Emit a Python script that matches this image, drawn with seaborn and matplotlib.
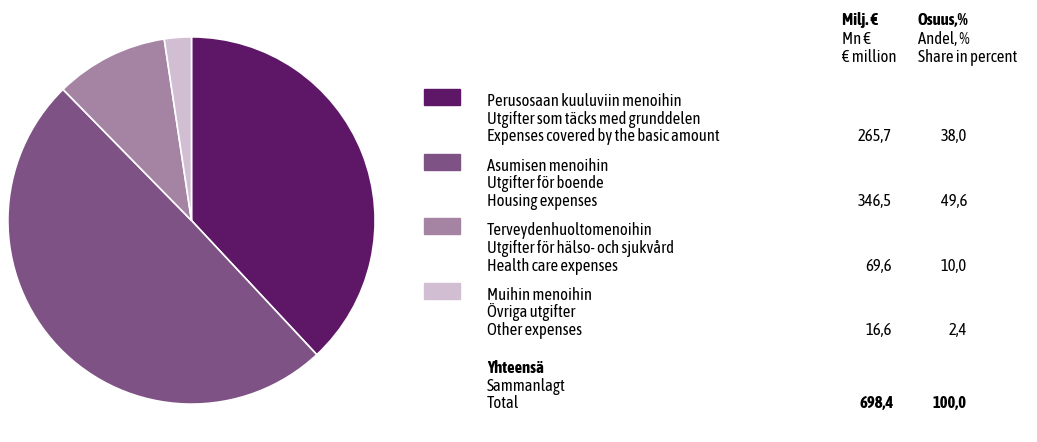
import matplotlib.pyplot as plt
from matplotlib import font_manager
from matplotlib.patches import Rectangle
import seaborn as sns

# data
labels_fi = ["Perusosaan kuuluviin menoihin", "Asumisen menoihin",
             "Terveydenhuoltomenoihin", "Muihin menoihin"]
labels_sv = ["Utgifter som täcks med grunddelen", "Utgifter för boende",
             "Utgifter för hälso- och sjukvård", "Övriga utgifter"]
labels_en = ["Expenses covered by the basic amount", "Housing expenses",
             "Health care expenses", "Other expenses"]
values_meur = [265.7, 346.5, 69.6, 16.6]
shares_pct = [38.0, 49.6, 10.0, 2.4]
total_meur = 698.4
total_pct = 100.0
colors = ["#5E1766", "#7F5285", "#A584A3", "#D1BED3"]

sns.set_theme(style="white")

# narrow font that also has a bold face, else Roboto
weights = {}
for f in font_manager.fontManager.ttflist:
    w = f.weight if isinstance(f.weight, int) else (700 if "bold" in str(f.weight) else 400)
    weights.setdefault(f.name, set()).add(w)
narrow = [n for n in sorted(weights) if ("Narrow" in n or "Condensed" in n)
          and max(weights[n]) >= 600 and min(weights[n]) <= 500]
pref = [n for n in narrow if n.startswith("Liberation")]
family = (pref or narrow or ["Roboto"])[0]
plt.rcParams['font.family'] = [family, 'DejaVu Sans']

W, H = 1037, 442
fig = plt.figure(figsize=(W / 100, H / 100), dpi=100)

# font size so that the longest label is as wide as in the reference
probe = fig.text(0, 0, labels_en[0], fontsize=12)
fig.canvas.draw()
fs = min(12, 12 * 259 / probe.get_window_extent().width)
probe.remove()

# pie
ax = fig.add_axes([7 / W, 37 / H, 369 / W, 369 / H])
ax.pie(values_meur, colors=colors, startangle=90, counterclock=False,
       wedgeprops=dict(edgecolor="white", linewidth=1.2))
ax.set_xlim(-1.005, 1.005)
ax.set_ylim(-1.005, 1.005)
ax.set_aspect("equal")


def fmt(v):
    return f"{v:.1f}".replace(".", ",")


def put(x, y, s, **kw):
    fig.text(x / W, 1 - y / H, s, va="baseline", fontsize=fs, color="black", **kw)


# header
put(842, 25, "Milj. €", fontweight="bold")
put(842, 43.5, "Mn €")
put(842, 62, "€ million")
put(918, 25, "Osuus,%", fontweight="bold")
put(918, 43.5, "Andel, %")
put(918, 62, "Share in percent")

# rows
x_num, x_pct = 892, 967
ls = 17.7
for i in range(len(labels_fi)):
    y0 = 106 + 64.6 * i
    fig.patches.append(Rectangle((424 / W, 1 - (y0 - 1) / H), 36 / W, 16 / H,
                                 transform=fig.transFigure, color=colors[i]))
    put(487, y0, labels_fi[i])
    put(487, y0 + ls, labels_sv[i])
    put(487, y0 + 2 * ls, labels_en[i])
    put(x_num, y0 + 2 * ls, fmt(values_meur[i]), ha="right")
    put(x_pct, y0 + 2 * ls, fmt(shares_pct[i]), ha="right")

y0 = 373
put(487, y0, "Yhteensä", fontweight="bold")
put(487, y0 + ls, "Sammanlagt")
put(487, y0 + 2 * ls, "Total")
put(x_num + 2, y0 + 2 * ls, fmt(total_meur), ha="right", fontweight="bold")
put(x_pct, y0 + 2 * ls, fmt(total_pct), ha="right", fontweight="bold")

fig.savefig("out.png", dpi=100, facecolor="white")
